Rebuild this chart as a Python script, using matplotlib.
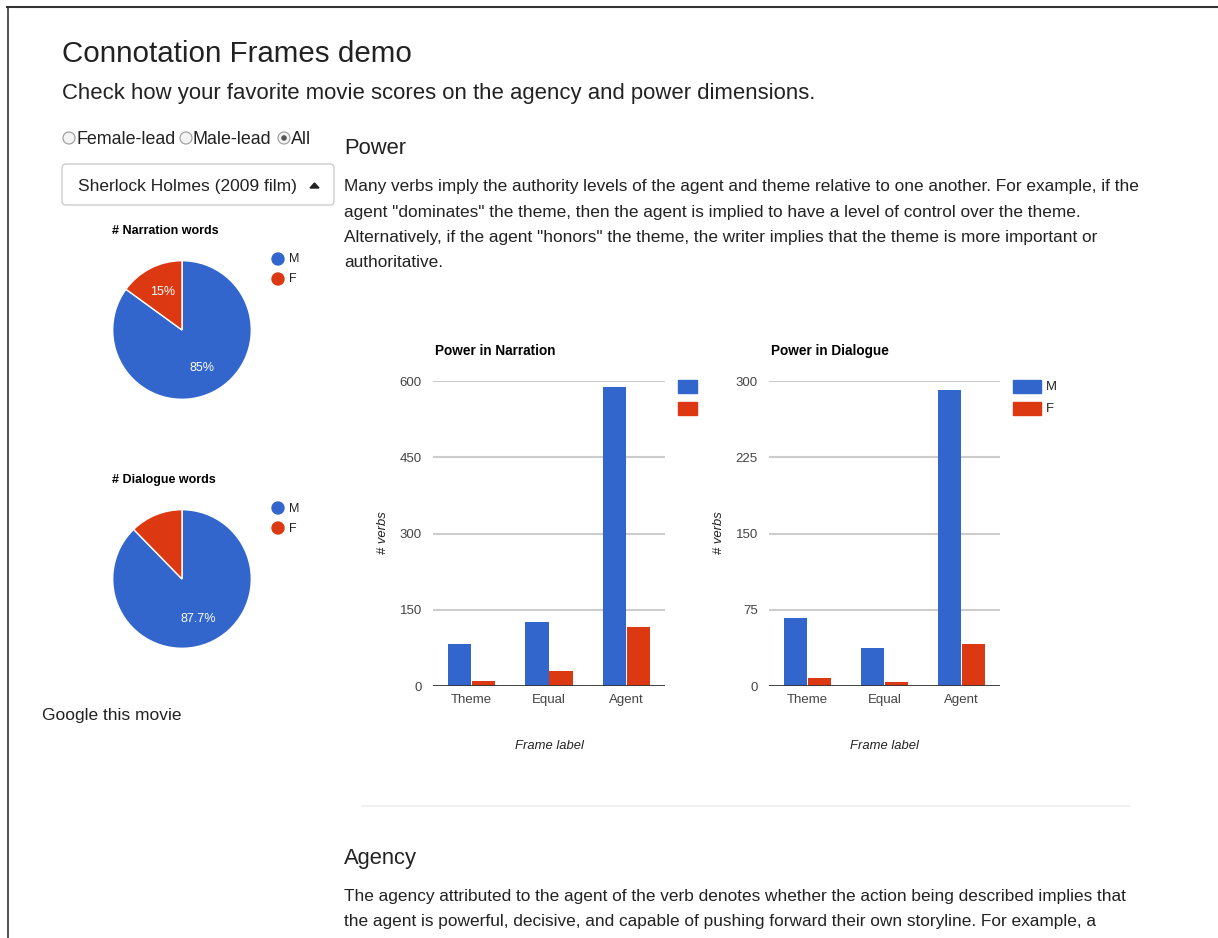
import matplotlib
matplotlib.use("Agg")
import matplotlib.pyplot as plt
from matplotlib.patches import Rectangle, Circle, FancyBboxPatch, Polygon

plt.rcParams['font.family'] = ['Liberation Sans', 'DejaVu Sans']

categories = ['Theme', 'Equal', 'Agent']
narr_m = [82, 125, 588]
narr_f = [9, 29, 116]
dial_m = [67, 37, 291]
dial_f = [8, 4, 41]

pie_labels = ['M', 'F']
pie_narration = [85, 15]
pie_dialogue = [87.7, 12.3]

blue = '#3366CC'
red = '#DC3912'

W, H = 1218, 938
fig = plt.figure(figsize=(W / 100, H / 100), dpi=100)


def pt(px):
    return px * 0.72


def px_axes(x0, y0, x1, y1):
    return fig.add_axes([x0 / W, 1 - y1 / H, (x1 - x0) / W, (y1 - y0) / H])


# calque de fond en pixels
bg = px_axes(0, 0, W, H)
bg.set_xlim(0, W)
bg.set_ylim(H, 0)
bg.axis('off')

# bordure de la page
bg.plot([7, W], [7, 7], color='#333333', lw=1.5)
bg.plot([7.5, 7.5], [7, H], color='#333333', lw=1.2)

txt = '#222222'
bg.text(62, 54, 'Connotation Frames demo', fontsize=pt(29.5), color=txt, va='center')
bg.text(62, 94, 'Check how your favorite movie scores on the agency and power dimensions.',
        fontsize=pt(22.2), color=txt, va='center')

# boutons radio
for cx, lab, on in [(69, 'Female-lead', False), (186, 'Male-lead', False), (284, 'All', True)]:
    bg.add_patch(Circle((cx, 138), 6, facecolor='#f4f4f4', edgecolor='#999999', lw=0.8))
    if on:
        bg.add_patch(Circle((cx, 138), 2.8, facecolor='#555555', edgecolor='none'))
    bg.text(cx + 7, 140, lab, fontsize=pt(17.9), color=txt, va='center')

# liste deroulante
bg.add_patch(FancyBboxPatch((62, 164), 272, 41, boxstyle='round,pad=0,rounding_size=4',
                            facecolor='white', edgecolor='#cccccc', lw=1))
bg.text(78, 186.5, 'Sherlock Holmes (2009 film)', fontsize=pt(17.4), color=txt, va='center')
bg.add_patch(Polygon([[310, 188], [319, 188], [314.5, 183]], closed=True, color='#222222'))

bg.text(42, 715.5, 'Google this movie', fontsize=pt(17.4), color=txt, va='center')


# camemberts
def draw_pie(cy, title, values, hide_small):
    bg.text(112, cy - 99, title, fontsize=pt(12.5), fontweight='bold', color='#000000', va='center')
    ax = px_axes(112, cy - 70, 252, cy + 70)
    fmt = lambda p: ('%.1f' % p).rstrip('0').rstrip('.') + '%'
    wedges, texts, autotexts = ax.pie(values, colors=[blue, red], startangle=90, counterclock=False,
                                      autopct=fmt, pctdistance=0.62,
                                      wedgeprops=dict(edgecolor='white', linewidth=1),
                                      textprops=dict(color='white', fontsize=pt(12.5)))
    if hide_small:
        autotexts[1].set_visible(False)
    ax.set_xlim(-1.01, 1.01)
    ax.set_ylim(-1.01, 1.01)
    for k, (lab, col) in enumerate(zip(pie_labels, [blue, red])):
        yy = cy - 71 + 20 * k
        bg.add_patch(Circle((278, yy), 6, color=col))
        bg.text(289, yy + 0.5, lab, fontsize=pt(12.5), color='#222222', va='center')


draw_pie(330, '# Narration words', pie_narration, False)
draw_pie(579, '# Dialogue words', pie_dialogue, True)

# section Power
bg.text(344, 148.5, 'Power', fontsize=pt(22), color=txt, va='center')
power_lines = [
    'Many verbs imply the authority levels of the agent and theme relative to one another. For example, if the',
    'agent "dominates" the theme, then the agent is implied to have a level of control over the theme.',
    'Alternatively, if the agent "honors" the theme, the writer implies that the theme is more important or',
    'authoritative.',
]
for i, line in enumerate(power_lines):
    bg.text(344, 187 + 25.3 * i, line, fontsize=pt(17.3), color=txt, va='center')


# diagrammes en barres
def draw_bars(x0, x1, title, m, f, ymax, ticks, legend_w, show_text):
    ax = px_axes(x0, 381, x1, 686)
    xs = range(len(categories))
    ax.bar([x - 0.155 for x in xs], m, width=0.30, color=blue, zorder=3)
    ax.bar([x + 0.155 for x in xs], f, width=0.30, color=red, zorder=3)
    ax.set_xlim(-0.5, 2.5)
    ax.set_ylim(0, ymax)
    ax.set_yticks(ticks)
    ax.set_xticks(list(xs))
    ax.set_xticklabels(categories)
    ax.tick_params(length=0, labelsize=pt(13.3), labelcolor='#444444')
    ax.tick_params(axis='y', pad=8)
    ax.tick_params(axis='x', pad=6)
    for t in ticks[1:]:
        ax.axhline(t, color='#cccccc', lw=1.5, zorder=1)
    ax.axhline(0, color='#333333', lw=2, zorder=4)
    for s in ax.spines.values():
        s.set_visible(False)
    ax.patch.set_alpha(0)

    bg.text(x0 + 2, 351, title, fontsize=pt(13.6), fontweight='bold', color='#000000', va='center')
    bg.text(x0 - 50, 533, '# verbs', fontsize=pt(13), style='italic', color='#222222',
            rotation=90, va='center', ha='center')
    bg.text((x0 + x1) / 2, 746, 'Frame label', fontsize=pt(13), style='italic', color='#222222',
            va='center', ha='center')
    lx = x1 + 13
    bg.add_patch(Rectangle((lx, 380), legend_w, 13, color=blue))
    bg.add_patch(Rectangle((lx, 402), legend_w, 13, color=red))
    if show_text:
        bg.text(lx + legend_w + 5, 387, 'M', fontsize=pt(13), color='#222222', va='center')
        bg.text(lx + legend_w + 5, 409, 'F', fontsize=pt(13), color='#222222', va='center')


draw_bars(433, 665, 'Power in Narration', narr_m, narr_f, 600, [0, 150, 300, 450, 600], 19, False)
draw_bars(769, 1000, 'Power in Dialogue', dial_m, dial_f, 300, [0, 75, 150, 225, 300], 28, True)

# separateur
bg.plot([362, 1130], [806, 806], color='#eeeeee', lw=1.2)

# section Agency
bg.text(344, 858.5, 'Agency', fontsize=pt(22), color=txt, va='center')
agency_lines = [
    'The agency attributed to the agent of the verb denotes whether the action being described implies that',
    'the agent is powerful, decisive, and capable of pushing forward their own storyline. For example, a',
]
for i, line in enumerate(agency_lines):
    bg.text(344, 896 + 25.3 * i, line, fontsize=pt(17.3), color=txt, va='center')

fig.savefig('out.png', dpi=100)
